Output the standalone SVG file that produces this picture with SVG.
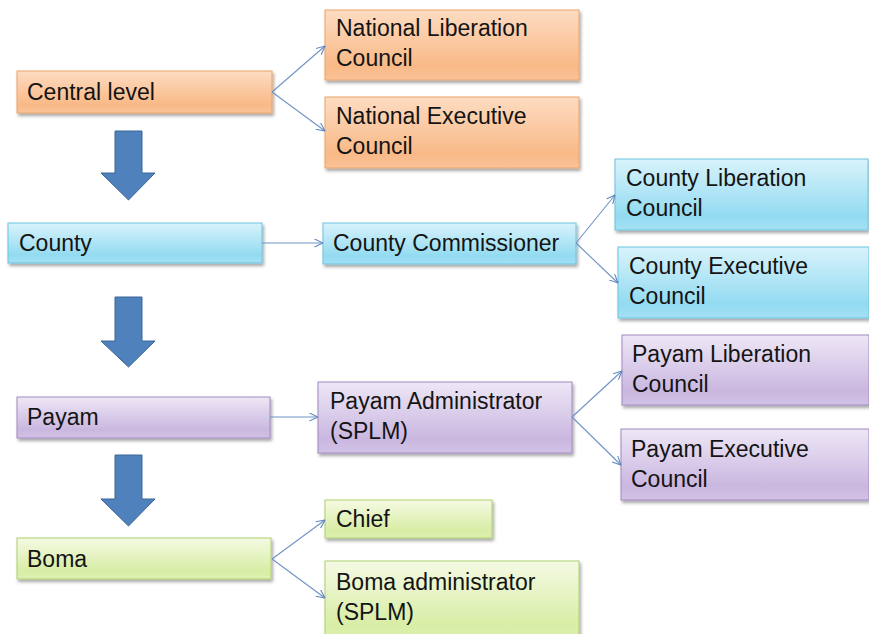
<svg xmlns="http://www.w3.org/2000/svg" width="869" height="634" viewBox="0 0 869 634">
<defs>
<linearGradient id="gO" x1="0" y1="0" x2="0" y2="1"><stop offset="0" stop-color="#FDDCC2"/><stop offset="0.8" stop-color="#F9B987"/><stop offset="1" stop-color="#FAC398"/></linearGradient>
<linearGradient id="gB" x1="0" y1="0" x2="0" y2="1"><stop offset="0" stop-color="#D9F3FB"/><stop offset="0.8" stop-color="#93DBF1"/><stop offset="1" stop-color="#A3E0F3"/></linearGradient>
<linearGradient id="gP" x1="0" y1="0" x2="0" y2="1"><stop offset="0" stop-color="#EEE7F6"/><stop offset="0.8" stop-color="#CAB7E0"/><stop offset="1" stop-color="#D2C2E5"/></linearGradient>
<linearGradient id="gG" x1="0" y1="0" x2="0" y2="1"><stop offset="0" stop-color="#F5FAE4"/><stop offset="0.8" stop-color="#D8EDA5"/><stop offset="1" stop-color="#DEF0B2"/></linearGradient>
<filter id="sh" x="-5%" y="-10%" width="110%" height="130%"><feDropShadow dx="1.5" dy="2.5" stdDeviation="1.5" flood-color="#000" flood-opacity="0.35"/></filter>
<marker id="ah" viewBox="0 0 10 10" refX="9.5" refY="5" markerWidth="9" markerHeight="9" markerUnits="userSpaceOnUse" orient="auto"><path d="M0,0.5 L9.5,5 L0,9.5" fill="none" stroke="#5F86BD" stroke-width="1.2"/></marker>
<style>
.t{font-family:"Liberation Sans",Arial,sans-serif;font-size:23px;fill:#141414}
.o{fill:url(#gO);stroke:#E9A36B;stroke-width:1;filter:url(#sh)}
.b{fill:url(#gB);stroke:#6CC4E0;stroke-width:1;filter:url(#sh)}
.p{fill:url(#gP);stroke:#9F89C1;stroke-width:1;filter:url(#sh)}
.g{fill:url(#gG);stroke:#ADCF6E;stroke-width:1;filter:url(#sh)}
.c{fill:none;stroke:#6F93C6;stroke-width:1.1;marker-end:url(#ah)}
.ar{fill:#4F81BD;stroke:#3B6497;stroke-width:1}
</style>
</defs>
<rect width="869" height="634" fill="#fff"/>

<g id="central"><rect class="o" x="17" y="71" width="255" height="42"/><text class="t" x="27" y="100">Central level</text></g>
<g id="nlc"><rect class="o" x="325" y="10" width="254" height="70"/><text class="t" x="336" y="36">National Liberation</text><text class="t" x="336" y="66">Council</text></g>
<g id="nec"><rect class="o" x="325" y="97" width="254" height="71"/><text class="t" x="336" y="124">National Executive</text><text class="t" x="336" y="154">Council</text></g>

<g id="county"><rect class="b" x="8" y="223" width="254" height="40"/><text class="t" x="19" y="251">County</text></g>
<g id="commissioner"><rect class="b" x="323" y="223" width="253" height="41"/><text class="t" x="333" y="251">County Commissioner</text></g>
<g id="clc"><rect class="b" x="615" y="159" width="253" height="71"/><text class="t" x="626" y="186">County Liberation</text><text class="t" x="626" y="216">Council</text></g>
<g id="cec"><rect class="b" x="618" y="247" width="251" height="71"/><text class="t" x="629" y="274">County Executive</text><text class="t" x="629" y="304">Council</text></g>

<g id="payam"><rect class="p" x="17" y="397" width="253" height="41"/><text class="t" x="27" y="425">Payam</text></g>
<g id="payamadmin"><rect class="p" x="318" y="382" width="254" height="71"/><text class="t" x="330" y="409">Payam Administrator</text><text class="t" x="330" y="439">(SPLM)</text></g>
<g id="plc"><rect class="p" x="622" y="335" width="247" height="70"/><text class="t" x="632" y="362">Payam Liberation</text><text class="t" x="632" y="392">Council</text></g>
<g id="pec"><rect class="p" x="621" y="429" width="248" height="71"/><text class="t" x="631" y="457">Payam Executive</text><text class="t" x="631" y="487">Council</text></g>

<g id="boma"><rect class="g" x="17" y="538" width="254" height="41"/><text class="t" x="27" y="567">Boma</text></g>
<g id="chief"><rect class="g" x="325" y="500" width="167" height="38"/><text class="t" x="336" y="527">Chief</text></g>
<g id="bomaadmin"><rect class="g" x="325" y="561" width="254" height="80"/><text class="t" x="336" y="590">Boma administrator</text><text class="t" x="336" y="620">(SPLM)</text></g>

<g id="levelarrows">
<path class="ar" d="M115,131 H142 V173 H155 L128.5,200 L101,173 H115 Z"/>
<path class="ar" d="M115,297 H142 V341 H155 L128.5,367 L101,341 H115 Z"/>
<path class="ar" d="M115,455 H142 V499 H155 L128.5,526 L101,499 H115 Z"/>
</g>

<g id="connectors">
<line class="c" x1="272" y1="92" x2="325" y2="46"/>
<line class="c" x1="272" y1="92" x2="325" y2="131"/>
<line class="c" x1="262" y1="243" x2="323" y2="243"/>
<line class="c" x1="576" y1="243" x2="615" y2="195"/>
<line class="c" x1="576" y1="243" x2="618" y2="283"/>
<line class="c" x1="270" y1="417" x2="318" y2="417"/>
<line class="c" x1="572" y1="417" x2="622" y2="371"/>
<line class="c" x1="572" y1="417" x2="621" y2="465"/>
<line class="c" x1="272" y1="559" x2="325" y2="520"/>
<line class="c" x1="272" y1="559" x2="325" y2="598"/>
</g>
</svg>
